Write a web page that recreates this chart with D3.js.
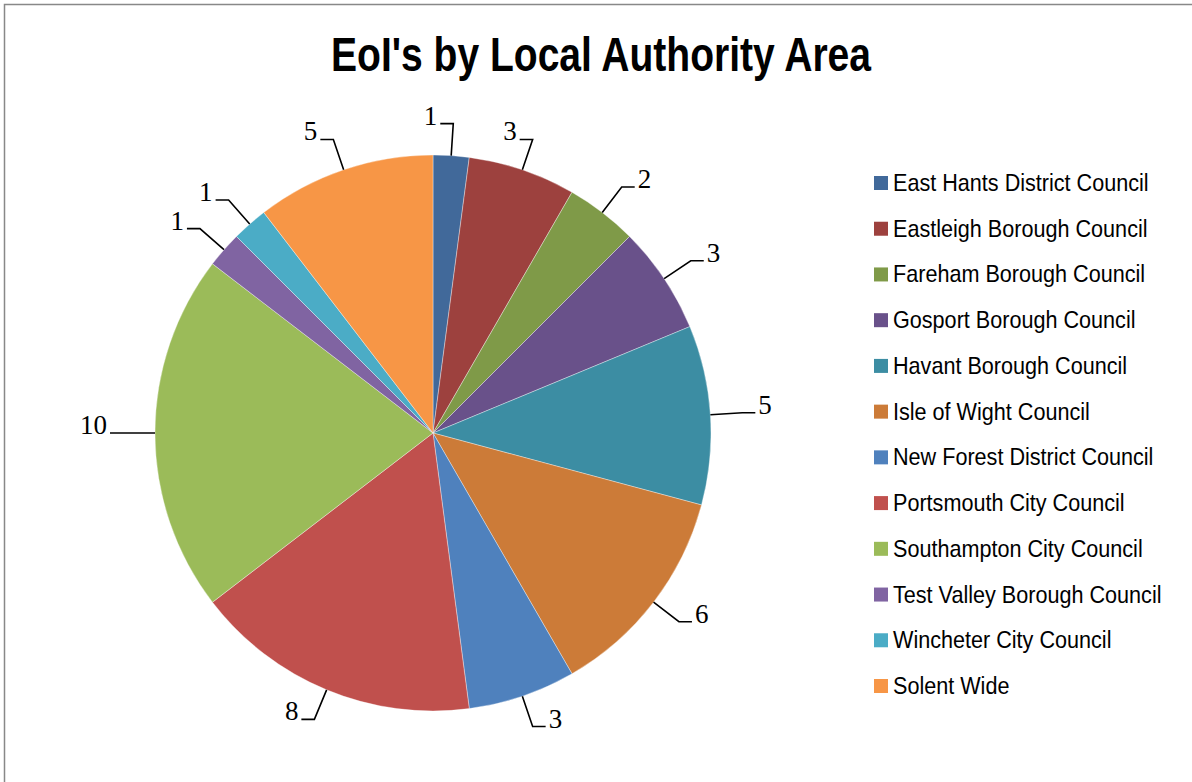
<!DOCTYPE html>
<meta charset="utf-8">
<style>
  body { margin: 0; background: #fff; }
  .title { font-family: "Liberation Sans", Arial, sans-serif; font-weight: bold; }
  .legend text { font-family: "Liberation Sans", Arial, sans-serif; font-size: 24px; fill: #000; }
  .lbl { font-family: "Liberation Serif", "Times New Roman", serif; font-size: 27px; fill: #000; }
  .leader { fill: none; stroke: #000; stroke-width: 1.6; }
</style>
<body>
<script src="https://d3js.org/d3.v7.min.js"></script>
<script>

  // data
  var areas = ["East Hants District Council", "Eastleigh Borough Council", "Fareham Borough Council",
    "Gosport Borough Council", "Havant Borough Council", "Isle of Wight Council",
    "New Forest District Council", "Portsmouth City Council", "Southampton City Council",
    "Test Valley Borough Council", "Wincheter City Council", "Solent Wide"];
  var counts = [1, 3, 2, 3, 5, 6, 3, 8, 10, 1, 1, 5];
  var colours = ["#41699a", "#9d413e", "#7f9a48", "#69518a", "#3c8da3", "#cc7b38",
    "#4f81bd", "#c0504d", "#9bbb59", "#8064a2", "#4bacc6", "#f79646"];

  var width = 1192, height = 782;
  var cx = 433, cy = 433, radius = 278;

  var svg = d3.select("body").append("svg")
    .attr("width", width)
    .attr("height", height);

  // chart frame (only top and left edges visible in the crop)
  svg.append("rect")
    .attr("x", 4.5).attr("y", 4.5)
    .attr("width", width + 10).attr("height", height + 10)
    .attr("fill", "#fff")
    .attr("stroke", "#888")
    .attr("stroke-width", 1.5);

  svg.append("text")
    .attr("class", "title")
    .attr("x", 601)
    .attr("y", 71)
    .attr("text-anchor", "middle")
    .attr("font-size", 48)
    .attr("textLength", 540)
    .attr("lengthAdjust", "spacingAndGlyphs")
    .text("EoI's by Local Authority Area");

  var data = areas.map(function (a, i) { return { name: a, value: counts[i], colour: colours[i] }; });

  var pie = d3.pie().value(function (d) { return d.value; }).sort(null);
  var arc = d3.arc().innerRadius(0).outerRadius(radius);
  var arcs = pie(data);

  var g = svg.append("g").attr("transform", "translate(" + cx + "," + cy + ")");

  g.selectAll("path.slice")
    .data(arcs)
    .enter()
    .append("path")
    .attr("class", "slice")
    .attr("d", arc)
    .attr("fill", function (d) { return d.data.colour; })
    .attr("stroke", "#fff")
    .attr("stroke-width", 0.6)
    .attr("stroke-opacity", 0.6);

  // leader lines + value labels
  var ext = 32, hseg = 13;
  arcs.forEach(function (d) {
    var a = (d.startAngle + d.endAngle) / 2;
    var sx = Math.sin(a), sy = -Math.cos(a);
    var p1 = [sx * radius, sy * radius];
    var p2 = [sx * (radius + ext), sy * (radius + ext)];
    var left = a > Math.PI || a < Math.PI / 9;
    var p3 = [p2[0] + (left ? -hseg : hseg), p2[1]];

    g.append("path")
      .attr("class", "leader")
      .attr("d", d3.line()([p1, p2, p3]));

    g.append("text")
      .attr("class", "lbl")
      .attr("x", p3[0] + (left ? -3 : 3))
      .attr("y", p3[1] + 1)
      .attr("text-anchor", left ? "end" : "start")
      .text(d.data.value);
  });

  // legend
  var legY = d3.scalePoint().domain(areas).range([183, 686]);

  var leg = svg.append("g").attr("class", "legend");
  var rows = leg.selectAll("g")
    .data(data)
    .enter()
    .append("g")
    .attr("transform", function (d) { return "translate(874," + legY(d.name) + ")"; });

  rows.append("rect")
    .attr("x", 0).attr("y", -7)
    .attr("width", 14).attr("height", 14)
    .attr("fill", function (d) { return d.colour; });

  rows.append("text")
    .attr("transform", "translate(19,8) scale(0.9,1)")
    .text(function (d) { return d.name; });

</script>
</body>
